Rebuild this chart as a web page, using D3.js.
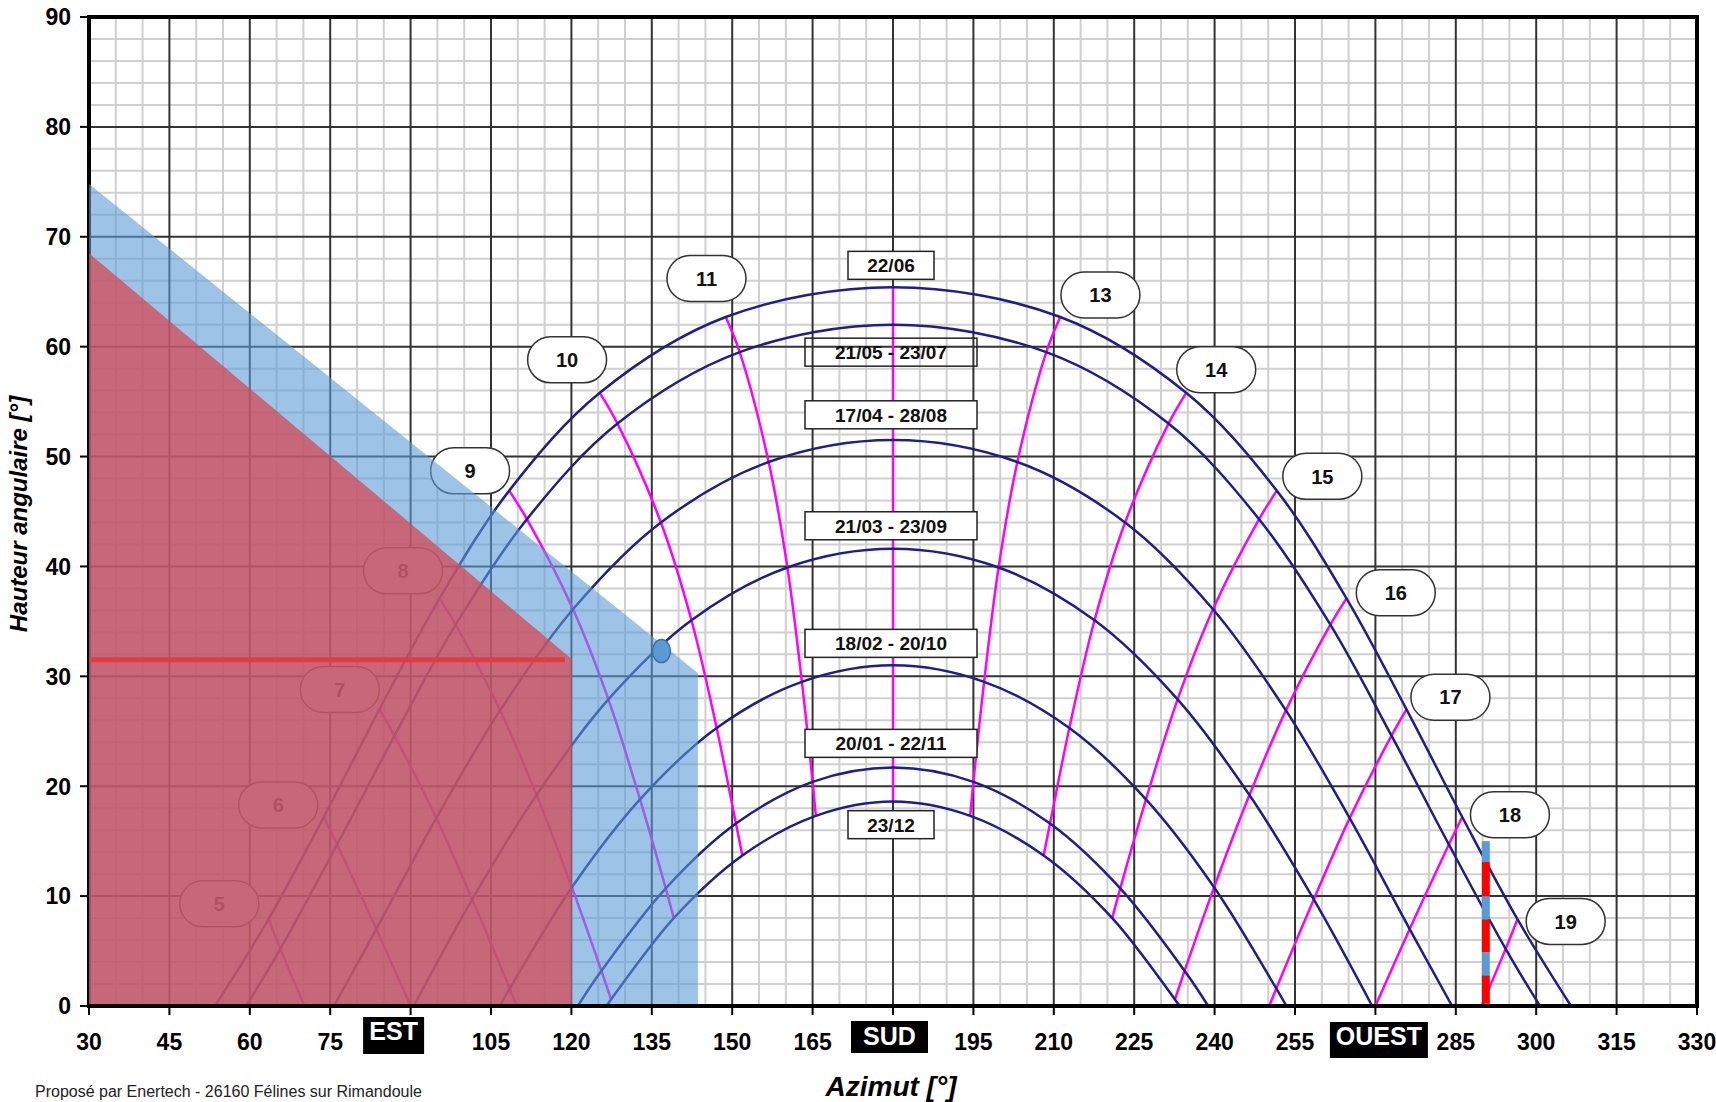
<!DOCTYPE html>
<html><head><meta charset="utf-8">
<script src="https://cdn.jsdelivr.net/npm/d3@7"></script>
<style>body{margin:0;background:#fff}svg{display:block;font-family:"Liberation Sans",Arial,sans-serif}</style>
</head><body><svg id="chart" width="1716" height="1102"></svg>
<script>
// ---------------- DATA ----------------
const hours = [5,6,7,8,9,10,11,12,13,14,15,16,17,18,19];
const dateLabels = ["22/06","21/05 - 23/07","17/04 - 28/08","21/03 - 23/09","18/02 - 20/10","20/01 - 22/11","23/12"];
const riseAz = [53.5,59.3,75.7,90.6,106.6,121.2,126.5];
const setAz  = [306.5,300.7,284.3,269.4,253.4,238.8,233.5];

// azimuth / altitude of each curve at each solar hour (null = sun below horizon)
const az2206  = [63.5,73.8,84.2,95.4,108.4,125.3,148.8,180,211.2,234.7,251.6,264.6,275.8,286.2,296.5];
const alt2206 = [7.9,17.2,27.0,37.1,46.9,55.8,62.7,65.4,62.7,55.8,46.9,37.1,27.0,17.2,7.9];
const az2105  = [65.7,76.3,87.0,98.4,111.7,128.6,151.4,180,208.6,231.4,248.3,261.6,273.0,283.7,294.3];
const alt2105 = [5.2,14.7,24.6,34.7,44.3,53.0,59.5,62.0,59.5,53.0,44.3,34.7,24.6,14.7,5.2];
const az1704  = [null,83.6,94.8,106.7,120.3,136.7,156.8,180,203.2,223.3,239.7,253.3,265.2,276.4,null];
const alt1704 = [null,7.0,17.1,26.9,36.1,44.0,49.5,51.5,49.5,44.0,36.1,26.9,17.1,7.0,null];
const az2103  = [null,null,101.5,113.5,126.9,142.4,160.3,180,199.7,217.6,233.1,246.5,258.5,null,null];
const alt2103 = [null,null,9.7,19.2,27.9,35.1,39.9,41.6,39.9,35.1,27.9,19.2,9.7,null,null];
const az1802  = [null,null,108.5,120.1,132.8,147.1,163.0,180,197.0,212.9,227.2,239.9,251.5,null,null];
const alt1802 = [null,null,1.6,10.8,18.8,25.3,29.5,31.0,29.5,25.3,18.8,10.8,1.6,null,null];
const az2001  = [null,null,null,125.6,137.6,150.7,165.0,180,195.0,209.3,222.4,234.4,null,null,null];
const alt2001 = [null,null,null,3.2,10.7,16.6,20.4,21.7,20.4,16.6,10.7,3.2,null,null,null];
const az2312  = [null,null,null,127.4,139.1,151.9,165.6,180,194.4,208.1,220.9,232.6,null,null,null];
const alt2312 = [null,null,null,0.6,8.0,13.7,17.3,18.6,17.3,13.7,8.0,0.6,null,null,null];

// where hour lines meet the horizon (null = they end on the 23/12 curve)
const hourHorizonAz = [70.2,90.0,109.8,null,null,null,null,null,null,null,null,null,250.2,270.0,289.8];
// hour label positions (az, alt)
const hourLabelAz  = [54.3,65.3,76.8,88.6,101.1,119.2,145.2,null,218.7,240.3,260.1,273.8,284.0,295.1,305.5];
const hourLabelAlt = [9.3,18.3,28.8,39.6,48.7,58.8,66.2,null,64.7,57.9,48.2,37.6,28.1,17.4,7.7];
// date label positions (alt at az 180)
const dateLabelAlt = [67.4,59.5,53.8,43.7,33.0,23.9,16.5];
const dateLabelFilled = [true,false,true,true,true,true,true];

// axes
const xTicks = [30,45,60,75,90,105,120,135,150,165,180,195,210,225,240,255,270,285,300,315,330];
const xTickLabels = ["30","45","60","75","EST","105","120","135","150","165","SUD","195","210","225","240","255","OUEST","285","300","315","330"];
const yTicks = [0,10,20,30,40,50,60,70,80,90];

// masks
const blueZoneAz  = [30,30,143.6,143.6];
const blueZoneAlt = [0,74.8,30.3,0];
const redZoneAz   = [30,30,120,120];
const redZoneAlt  = [0,68.5,31.6,0];
const redLineAz   = [30,118.8];
const redLineAlt  = [31.5,31.5];
const pointAz = 136.8, pointAlt = 32.3;
const barAz = 290.6;
const barFrom = [0.2,2.8,4.9,7.9,10.0,13.1];
const barTo   = [2.8,4.9,7.9,10.0,13.1,15.0];
const barIsRed = [true,false,true,false,true,false];

// ---------------- DRAW ----------------
const svg = d3.select("#chart");
const x = d3.scaleLinear().domain([30,330]).range([89,1697]);
const y = d3.scaleLinear().domain([0,90]).range([1006,17]);
const NAVY = "#1f1f86", MAG = "#ff00ff";

svg.append("rect").attr("width",1716).attr("height",1102).attr("fill","#fff");

// grid
const g = svg.append("g");
g.selectAll(".vmin").data(d3.range(35,330,5).filter(v=>v%15!==0)).join("line")
  .attr("x1",d=>x(d)).attr("x2",d=>x(d)).attr("y1",y(0)).attr("y2",y(90))
  .attr("stroke","#d0d0d0").attr("stroke-width",2);
g.selectAll(".hmin").data(d3.range(2,90,2).filter(v=>v%10!==0)).join("line")
  .attr("y1",d=>y(d)).attr("y2",d=>y(d)).attr("x1",x(30)).attr("x2",x(330))
  .attr("stroke","#d0d0d0").attr("stroke-width",2);
g.selectAll(".vmaj").data(xTicks.slice(1,-1)).join("line")
  .attr("x1",d=>x(d)).attr("x2",d=>x(d)).attr("y1",y(0)).attr("y2",y(90))
  .attr("stroke","#333").attr("stroke-width",2);
g.selectAll(".hmaj").data(yTicks.slice(1,-1)).join("line")
  .attr("y1",d=>y(d)).attr("y2",d=>y(d)).attr("x1",x(30)).attr("x2",x(330))
  .attr("stroke","#333").attr("stroke-width",2);

// left axis (under the masks)
svg.append("line").attr("x1",x(30)).attr("x2",x(30)).attr("y1",y(90)-2).attr("y2",y(0)+2)
  .attr("stroke","#000").attr("stroke-width",4);

const dates = [[az2206,alt2206],[az2105,alt2105],[az1704,alt1704],[az2103,alt2103],[az1802,alt1802],[az2001,alt2001],[az2312,alt2312]];
const line = d3.line().x(d=>x(d[0])).y(d=>y(d[1])).curve(d3.curveCatmullRom.alpha(0.5));

// hour lines
hours.forEach((h,k)=>{
  const pts = dates.map(([a,b])=> a[k]!=null ? [a[k],b[k]] : null).filter(Boolean);
  if (hourHorizonAz[k]!=null) pts.push([hourHorizonAz[k],0]);
  svg.append("path").attr("d",line(pts)).attr("fill","none").attr("stroke",MAG).attr("stroke-width",2.5);
});
// date curves
dates.forEach(([a,b],i)=>{
  const pts = [[riseAz[i],0]];
  a.forEach((v,k)=>{ if(v!=null) pts.push([v,b[k]]); });
  pts.push([setAz[i],0]);
  svg.append("path").attr("d",line(pts)).attr("fill","none").attr("stroke",NAVY).attr("stroke-width",2.5);
});

// hour labels
hours.forEach((h,k)=>{
  if (hourLabelAz[k]==null) return;
  const cx = x(hourLabelAz[k]), cy = y(hourLabelAlt[k]);
  svg.append("rect").attr("x",cx-39.5).attr("y",cy-23).attr("width",79).attr("height",46).attr("rx",23)
    .attr("fill","#fff").attr("stroke","#333").attr("stroke-width",1.5);
  svg.append("text").attr("x",cx).attr("y",cy).attr("dy","0.36em").attr("text-anchor","middle")
    .attr("font-size",20).attr("font-weight","bold").attr("fill","#111").text(h);
});
// date labels
dateLabels.forEach((t,i)=>{
  const w = t.length>6 ? 172 : 86, cx = x(180)-2, cy = y(dateLabelAlt[i]);
  svg.append("rect").attr("x",cx-w/2).attr("y",cy-14).attr("width",w).attr("height",28)
    .attr("fill",dateLabelFilled[i]?"#fff":"none").attr("stroke","#222").attr("stroke-width",1.5);
  svg.append("text").attr("x",cx).attr("y",cy).attr("dy","0.36em").attr("text-anchor","middle")
    .attr("font-size",19).attr("font-weight","bold").attr("fill","#111").text(t);
});

// masks
const poly = (az,alt)=> az.map((v,i)=>[x(v),y(alt[i])].join(",")).join(" ");
svg.append("polygon").attr("points",poly(blueZoneAz,blueZoneAlt)).attr("fill","#5b9bd5").attr("fill-opacity",0.6);
svg.append("polygon").attr("points",poly(redZoneAz,redZoneAlt)).attr("fill","rgb(212,74,86)").attr("fill-opacity",0.75);
svg.append("line").attr("x1",x(redLineAz[0])).attr("x2",x(redLineAz[1])).attr("y1",y(redLineAlt[0])).attr("y2",y(redLineAlt[1]))
  .attr("stroke","#e23b44").attr("stroke-width",5);
svg.append("ellipse").attr("cx",x(pointAz)).attr("cy",y(pointAlt)).attr("rx",9).attr("ry",11.5)
  .attr("fill","#5b9bd5").attr("stroke","#41719c").attr("stroke-width",1.5);
barFrom.forEach((f,i)=>{
  svg.append("rect").attr("x",x(barAz)-4).attr("y",y(barTo[i])).attr("width",8).attr("height",y(f)-y(barTo[i]))
    .attr("fill",barIsRed[i]?"#ff0000":"#5b9bd5");
});

// frame
svg.append("line").attr("x1",x(30)-2).attr("x2",x(330)+2).attr("y1",y(90)).attr("y2",y(90)).attr("stroke","#000").attr("stroke-width",4);
svg.append("line").attr("x1",x(330)).attr("x2",x(330)).attr("y1",y(90)).attr("y2",y(0)).attr("stroke","#000").attr("stroke-width",4);
svg.append("line").attr("x1",x(30)-2).attr("x2",x(330)+2).attr("y1",y(0)).attr("y2",y(0)).attr("stroke","#000").attr("stroke-width",4);

// y axis ticks & labels
yTicks.forEach(v=>{
  svg.append("line").attr("x1",80).attr("x2",x(30)).attr("y1",y(v)).attr("y2",y(v)).attr("stroke","#000").attr("stroke-width",2);
  svg.append("text").attr("x",71).attr("y",y(v)).attr("dy","0.36em").attr("text-anchor","end")
    .attr("font-size",23).attr("font-weight","bold").attr("fill","#000").text(v);
});
// x axis ticks & labels
const boxStyle = {EST:{dx:-17,w:61,y0:1017,y1:1054,base:1040}, SUD:{dx:-3.5,w:77,y0:1021,y1:1053,base:1045}, OUEST:{dx:3.5,w:98,y0:1022,y1:1058,base:1045}};
xTicks.forEach((v,i)=>{
  svg.append("line").attr("x1",x(v)).attr("x2",x(v)).attr("y1",y(0)).attr("y2",y(0)+9).attr("stroke","#000").attr("stroke-width",2);
  const t = xTickLabels[i];
  if (boxStyle[t]) {
    const s = boxStyle[t], cx = x(v)+s.dx;
    svg.append("rect").attr("x",cx-s.w/2).attr("y",s.y0).attr("width",s.w).attr("height",s.y1-s.y0).attr("fill","#000");
    svg.append("text").attr("x",cx).attr("y",s.base).attr("text-anchor","middle").attr("font-size",25)
      .attr("font-weight","bold").attr("fill","#fff").text(t);
  } else {
    svg.append("text").attr("x",x(v)).attr("y",1050).attr("text-anchor","middle").attr("font-size",23)
      .attr("font-weight","bold").attr("fill","#000").text(t);
  }
});

// titles
svg.append("text").attr("x",891).attr("y",1096).attr("text-anchor","middle").attr("font-size",28)
  .attr("font-weight","bold").attr("font-style","italic").attr("fill","#000").text("Azimut [°]");
svg.append("text").attr("transform","translate(27,514) rotate(-90)").attr("text-anchor","middle").attr("font-size",24)
  .attr("font-weight","bold").attr("font-style","italic").attr("fill","#000").text("Hauteur angulaire [°]");
svg.append("text").attr("x",35).attr("y",1097).attr("font-size",16).attr("fill","#222")
  .text("Proposé par Enertech - 26160 Félines sur Rimandoule");
</script></body></html>
